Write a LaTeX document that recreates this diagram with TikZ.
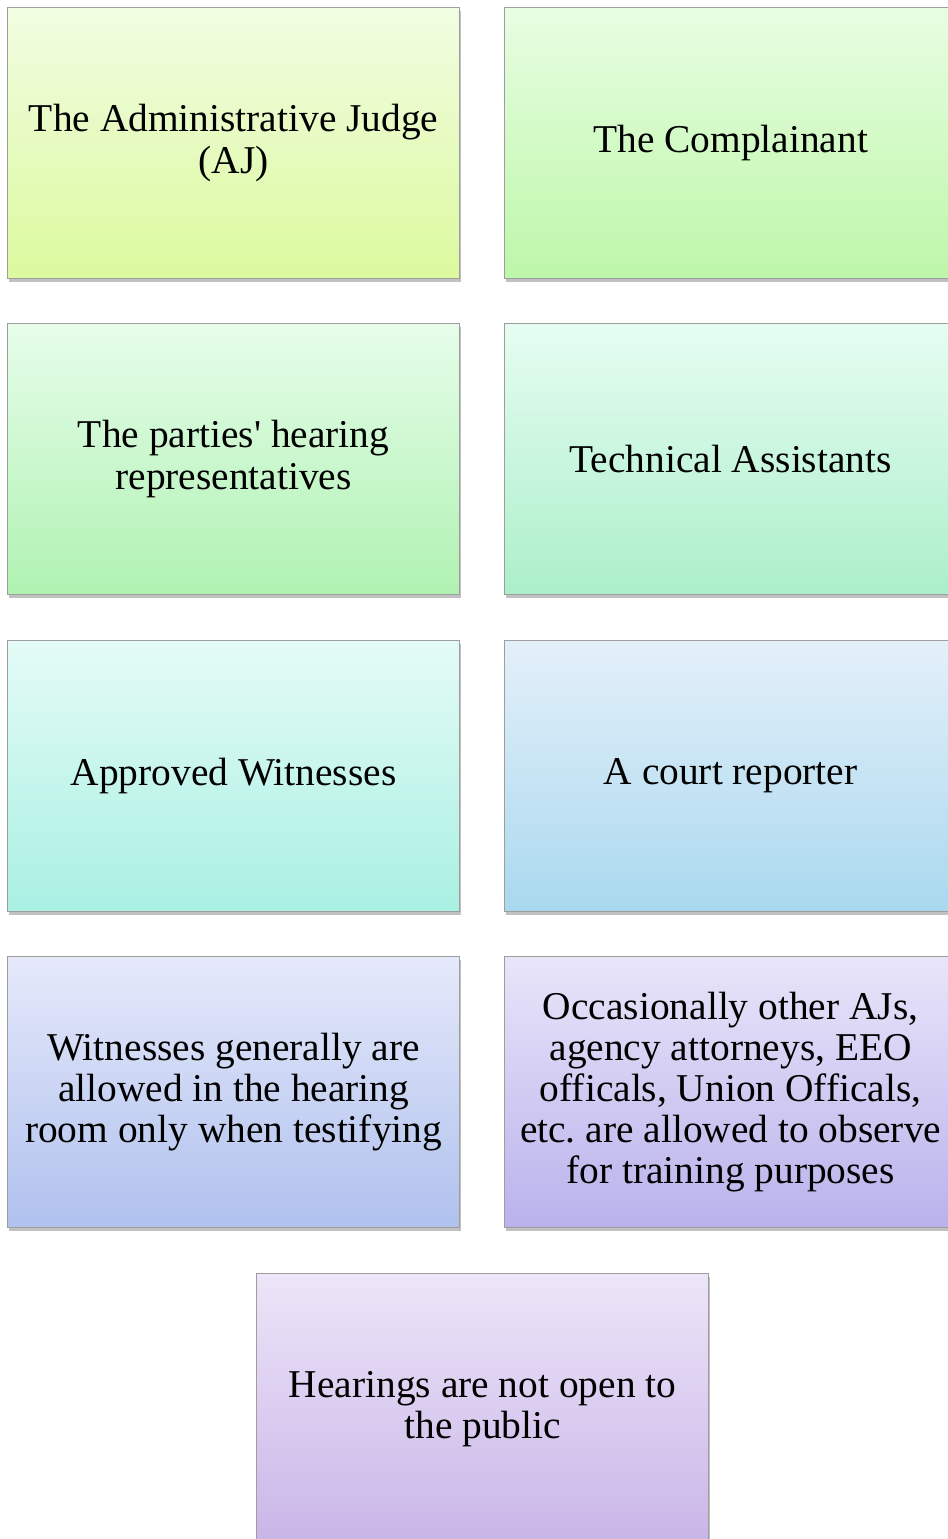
\documentclass[tikz,border=0pt]{standalone}
\usepackage{fontspec}
\setmainfont{Liberation Serif}
% same face without the TeX quote mapping, for a straight apostrophe
\newfontfamily\rawserif{Liberation Serif}
\usetikzlibrary{shadows}
\begin{document}
\frenchspacing
\begin{tikzpicture}[x=0.5pt,y=-0.5pt,
  card/.style={draw=black!38, line width=0.6pt, rectangle, anchor=north west,
    minimum width=226pt, minimum height=135.5pt, inner sep=0pt,
    align=center,
    font=\fontsize{19.7}{20.6}\selectfont,
    drop shadow={shadow xshift=0.6pt, shadow yshift=-1.6pt, opacity=0.35, fill=black!70}},
  shade/.style 2 args={top color=#1, bottom color=#2}]
\useasboundingbox (0,0) rectangle (948,1539);
\clip (0,0) rectangle (948,1539);
\definecolor{a1}{HTML}{F1FDE2}\definecolor{a2}{HTML}{DCF99E}
\definecolor{b1}{HTML}{E8FDE2}\definecolor{b2}{HTML}{BDF7A9}
\definecolor{c1}{HTML}{E6FDEA}\definecolor{c2}{HTML}{B0F2B2}
\definecolor{d1}{HTML}{E6FDF2}\definecolor{d2}{HTML}{ACEFCA}
\definecolor{e1}{HTML}{E4FBF6}\definecolor{e2}{HTML}{A9F0E3}
\definecolor{f1}{HTML}{E4F0FA}\definecolor{f2}{HTML}{A9D8EE}
\definecolor{g1}{HTML}{E5E9FA}\definecolor{g2}{HTML}{B0C1EE}
\definecolor{h1}{HTML}{E9E5F9}\definecolor{h2}{HTML}{B9B2EC}
\definecolor{i1}{HTML}{EDE5F8}\definecolor{i2}{HTML}{C9B5E8}

\node[card, shade={a1}{a2}] (judge) at (7,7) {The Administrative Judge\\(AJ)};
\node[card, shade={b1}{b2}] (complainant) at (504,7) {The Complainant};
\node[card, shade={c1}{c2}] (reps) at (7,323) {The parties{\rawserif'} hearing\\representatives};
\node[card, shade={d1}{d2}] (tech) at (504,323) {Technical Assistants};
\node[card, shade={e1}{e2}] (witnesses) at (7,640) {Approved Witnesses};
\node[card, shade={f1}{f2}] (reporter) at (504,640) {A court reporter};
\node[card, shade={g1}{g2}] (testify) at (7,956) {Witnesses generally are\\allowed in the hearing\\room only when testifying};
\node[card, shade={h1}{h2}] (observers) at (504,956) {Occasionally other AJs,\\agency attorneys, EEO\\officals, Union Officals,\\etc. are allowed to observe\\for training purposes};
\node[card, shade={i1}{i2}] (public) at (256,1273) {Hearings are not open to\\the public};
\end{tikzpicture}
\end{document}
